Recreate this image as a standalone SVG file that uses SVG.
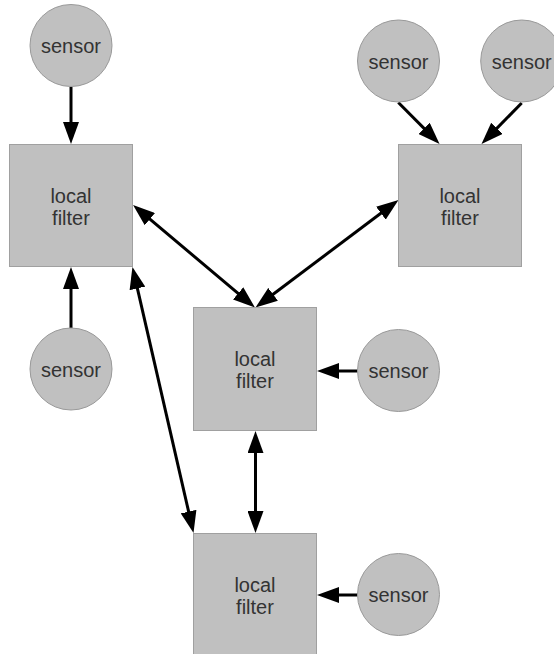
<svg xmlns="http://www.w3.org/2000/svg" width="554" height="654" viewBox="0 0 554 654">
<defs>
<style>
.sensor circle{fill:#c0c0c0;stroke:#999;stroke-width:1}
.filter rect{fill:#c0c0c0;stroke:#a0a0a0;stroke-width:1}
text{font-family:"Liberation Sans",Arial,sans-serif;font-size:20px;fill:#333;text-anchor:middle}
.conn path{fill:none;stroke:#000;stroke-width:3}
</style>
<marker id="ah" markerUnits="userSpaceOnUse" viewBox="0 0 22 16" markerWidth="22" markerHeight="16" refX="12" refY="8" orient="auto-start-reverse">
<path d="M0,0 L22,8 L0,16 z" fill="#000"/>
</marker>
</defs>
<rect width="554" height="654" fill="#fff"/>
<g id="connectors" class="conn">
<path d="M71,87 L71,134" marker-end="url(#ah)"/>
<path d="M71,328 L71,277" marker-end="url(#ah)"/>
<path d="M398.3,102.5 L432.5,136.9" marker-end="url(#ah)"/>
<path d="M521.7,103 L488.5,136.9" marker-end="url(#ah)"/>
<path d="M140.7,211.4 L247.3,301.1" marker-start="url(#ah)" marker-end="url(#ah)"/>
<path d="M390.5,206 L263.5,301.5" marker-start="url(#ah)" marker-end="url(#ah)"/>
<path d="M134.7,276.7 L191.3,523.3" marker-start="url(#ah)" marker-end="url(#ah)"/>
<path d="M255.5,441 L255.5,523" marker-start="url(#ah)" marker-end="url(#ah)"/>
<path d="M357.5,371 L327,371" marker-end="url(#ah)"/>
<path d="M357.5,595 L327,595" marker-end="url(#ah)"/>
</g>
<g id="sensor1" class="sensor"><circle cx="71" cy="45.5" r="41"/><text x="71" y="53">sensor</text></g>
<g id="sensor2" class="sensor"><circle cx="71" cy="369" r="41"/><text x="71" y="376.5">sensor</text></g>
<g id="sensor3" class="sensor"><circle cx="398.5" cy="61" r="41"/><text x="398.5" y="68.5">sensor</text></g>
<g id="sensor4" class="sensor"><circle cx="521.7" cy="61" r="41"/><text x="521.7" y="68.5">sensor</text></g>
<g id="sensor5" class="sensor"><circle cx="398.5" cy="370.5" r="41"/><text x="398.5" y="378">sensor</text></g>
<g id="sensor6" class="sensor"><circle cx="398.5" cy="594.5" r="41"/><text x="398.5" y="602">sensor</text></g>
<g id="filter1" class="filter"><rect x="9.5" y="144.5" width="123" height="122"/><text x="71" y="202.5">local</text><text x="71" y="224.5">filter</text></g>
<g id="filter2" class="filter"><rect x="398.5" y="144.5" width="123" height="122"/><text x="460" y="202.5">local</text><text x="460" y="224.5">filter</text></g>
<g id="filter3" class="filter"><rect x="193.5" y="307.5" width="123" height="123"/><text x="255" y="366">local</text><text x="255" y="388">filter</text></g>
<g id="filter4" class="filter"><rect x="193.5" y="533.5" width="123" height="123"/><text x="255" y="591.5">local</text><text x="255" y="613.5">filter</text></g>
</svg>
